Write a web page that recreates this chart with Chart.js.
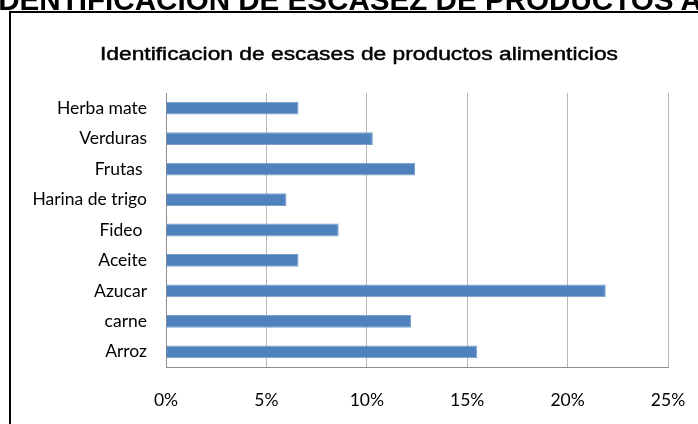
<!DOCTYPE html>
<html>
<head>
<meta charset="utf-8">
<script src="https://cdn.jsdelivr.net/npm/chart.js@4"></script>
<style>
  html, body { margin: 0; padding: 0; background: #fff; overflow: hidden; }
  #wrap { position: relative; width: 698px; height: 424px; }
  #c { position: absolute; left: 0; top: 0; }
  #heading { position: absolute; left: -10px; top: -15px; white-space: nowrap;
    font-family: "Liberation Sans", Arial, sans-serif; font-weight: bold; font-size: 29.6px; line-height: 29.6px; color: #000; }
  #title { position: absolute; left: 100px; top: 45px; white-space: nowrap; transform-origin: 0 0;
    font-family: "Liberation Sans", Arial, sans-serif; font-size: 18px; line-height: 18px; color: #000;
    -webkit-text-stroke: 0.45px #000; }
  #frame { position: absolute; left: 9px; top: 11px; width: 800px; height: 500px;
    border: 2px solid #000; box-sizing: border-box; pointer-events: none; }
</style>
</head>
<body>
<div id="wrap">
  <canvas id="c" width="698" height="424"></canvas>
  <div id="heading">IDENTIFICACION DE ESCASEZ DE PRODUCTOS ALIMENTICIOS</div>
  <span id="title"></span>
  <div id="frame"></div>
</div>
<script>
const chartTitle = "Identificacion de escases de productos alimenticios";
const categories = ["Herba mate", "Verduras", "Frutas ", "Harina de trigo", "Fideo ", "Aceite", "Azucar", "carne", "Arroz"];
const shortagePct = [6.6, 10.3, 12.4, 6.0, 8.6, 6.6, 21.9, 12.2, 15.5];
const xTicks = [0, 5, 10, 15, 20, 25];

const titleEl = document.getElementById('title');
titleEl.textContent = chartTitle;
const tw = titleEl.getBoundingClientRect().width;
titleEl.style.transform = 'scaleX(' + (518 / tw) + ')';

const labelFont = { family: "Lato, 'Open Sans', sans-serif", size: 17.5 };

new Chart(document.getElementById('c'), {
  type: 'bar',
  data: {
    labels: categories,
    datasets: [{
      data: shortagePct,
      backgroundColor: '#4f81bd',
      borderColor: '#7a9fcf',
      borderWidth: 1,
      categoryPercentage: 1.0,
      barPercentage: 0.42
    }]
  },
  options: {
    indexAxis: 'y',
    responsive: false,
    animation: false,
    layout: { padding: { left: 0, right: 30, top: 93, bottom: 0 } },
    plugins: {
      legend: { display: false },
      tooltip: { enabled: false },
      title: { display: false }
    },
    scales: {
      x: {
        min: 0, max: 25,
        afterBuildTicks: (s) => { s.ticks = xTicks.map(v => ({ value: v })); },
        afterFit: (s) => { s.height = 424 - 367; s.paddingLeft = 0; s.paddingRight = 0; },
        ticks: {
          callback: (v) => v + '%',
          color: '#000',
          font: labelFont,
          padding: 23,
          maxRotation: 0
        },
        grid: { color: '#b8b8b8', lineWidth: 1, drawTicks: false },
        border: { color: '#8c8c8c', width: 1 }
      },
      y: {
        afterFit: (s) => { s.width = 166; s.paddingTop = 0; s.paddingBottom = 0; },
        ticks: { color: '#000', font: labelFont, padding: 19 },
        grid: { display: false, drawTicks: false },
        border: { color: '#8c8c8c', width: 1 }
      }
    }
  }
});
</script>
</body>
</html>
